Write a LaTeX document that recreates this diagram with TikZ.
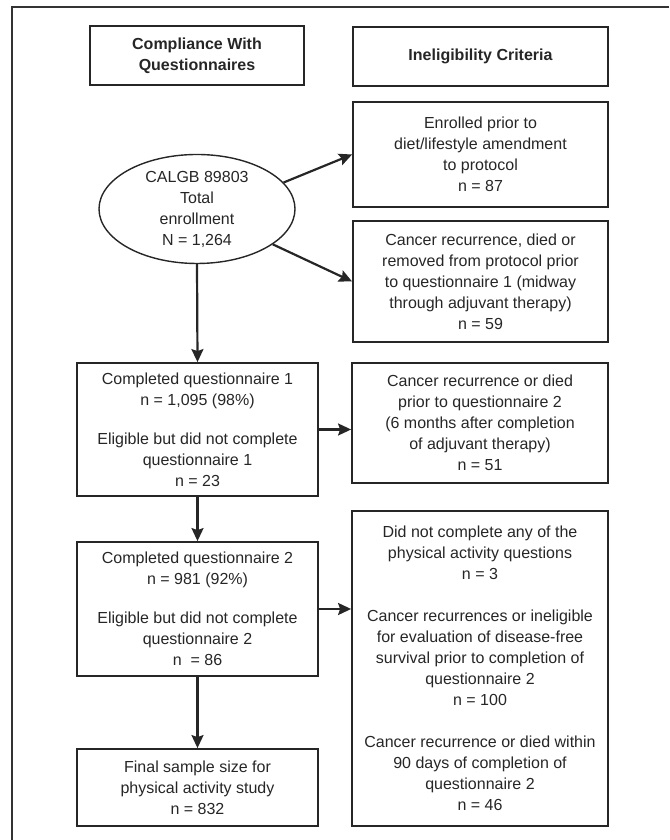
\documentclass[tikz,border=0pt]{standalone}
\usepackage{fontspec}
\setmainfont{Liberation Sans}
\usepackage{tikz}
\usetikzlibrary{arrows.meta, positioning, shapes.geometric}

\tikzset{
  box/.style={draw=black!85, line width=1.8pt, align=center, inner sep=0pt,
    font=\fontsize{16}{21}\selectfont, text=black!85},
  hdr/.style={box, font=\fontsize{16}{21}\selectfont\bfseries},
  arr/.style={->, line width=2.2pt, draw=black!85}
}

\begin{document}
\begin{tikzpicture}[x=1pt, y=1pt, >={Stealth[length=13pt, width=12pt, inset=2pt]}]
  \useasboundingbox (0,0) rectangle (669,840);

  % Frame (cropped)
  \draw[line width=1.3pt, black!80] (669,833) -- (12,833) -- (12,0);

  % Headers
  \node[hdr, minimum width=214, minimum height=59] (hcomp) at (197,784.5)
    {Compliance With\\Questionnaires};
  \node[hdr, minimum width=255, minimum height=59] (hinel) at (480.5,783.5)
    {Ineligibility Criteria};

  % Left column
  \node[box, ellipse, line width=1.4pt, minimum width=196, minimum height=109]
    (enroll) at (197,631) {CALGB 89803\\Total\\enrollment\\N = 1,264};
  \node[box, minimum width=241, minimum height=133] (quest1) at (197.5,410.5)
    {Completed questionnaire 1\\n = 1,095 (98\%)\\[18pt]
     Eligible but did not complete\\questionnaire 1\\n = 23};
  \node[box, minimum width=241, minimum height=134] (quest2) at (197.5,231)
    {Completed questionnaire 2\\n = 981 (92\%)\\[18pt]
     Eligible but did not complete\\questionnaire 2\\n \ = 86};
  \node[box, minimum width=241, minimum height=77] (final) at (197.5,52.5)
    {Final sample size for\\physical activity study\\n = 832};

  % Right column
  \node[box, minimum width=255, minimum height=105] (amend) at (480.5,685.5)
    {Enrolled prior to\\diet/lifestyle amendment\\to protocol\\n = 87};
  \node[box, minimum width=255, minimum height=121] (removed) at (480.5,558.5)
    {Cancer recurrence, died or\\removed from protocol prior\\to questionnaire 1 (midway\\through adjuvant therapy)\\n = 59};
  \node[box, minimum width=256, minimum height=120] (died) at (480,417)
    {Cancer recurrence or died\\prior to questionnaire 2\\(6 months after completion\\of adjuvant therapy)\\n = 51};
  \node[box, minimum width=256, minimum height=315] (excl) at (480,171.5)
    {Did not complete any of the\\physical activity questions\\n = 3\\[21pt]
     Cancer recurrences or ineligible\\for evaluation of disease-free\\survival prior to completion of\\questionnaire 2\\n = 100\\[21pt]
     Cancer recurrence or died within\\90 days of completion of\\questionnaire 2\\n = 46};

  % Arrows
  \draw[arr] (enroll.17) -- (amend.west);
  \draw[arr] (enroll.-25) -- (removed.west);
  \draw[arr] (enroll.south) -- (quest1.north);
  \draw[arr] (quest1.east) -- (quest1.east -| died.west);
  \draw[arr] (quest1.south) -- (quest2.north);
  \draw[arr] (quest2.east) -- (quest2.east -| excl.west);
  \draw[arr] (quest2.south) -- (final.north);
\end{tikzpicture}
\end{document}
